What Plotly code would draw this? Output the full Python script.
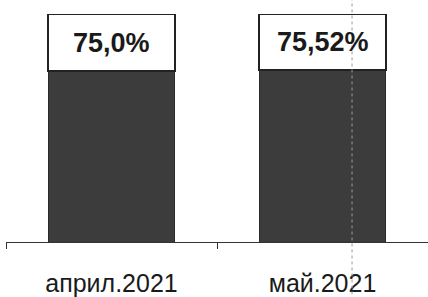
import plotly.graph_objects as go

categories = ["април.2021", "май.2021"]
share_values = [75.0, 75.52]
remainder_values = [25.0, 24.48]
value_labels = ["75,0%", "75,52%"]

fig = go.Figure()
fig.add_trace(go.Bar(
    x=categories, y=share_values,
    marker=dict(color="#3c3c3c", line=dict(color="#2a2a2a", width=1)),
    width=0.6, hoverinfo="skip", showlegend=False,
))
fig.add_trace(go.Bar(
    x=categories, y=remainder_values,
    marker=dict(color="white", line=dict(color="#222222", width=1.5)),
    width=0.6, hoverinfo="skip", showlegend=False,
))

for cat, base, rem, lab in zip(categories, share_values, remainder_values, value_labels):
    fig.add_annotation(
        x=cat, y=base + rem / 2, xref="x", yref="y",
        text="<b>" + lab + "</b>", showarrow=False,
        font=dict(family="Liberation Sans, Arial, sans-serif", size=27, color="#1a1a1a"),
    )

# faint dotted scan line
fig.add_shape(type="line", xref="paper", yref="paper",
              x0=0.82, x1=0.82, y0=-0.23, y1=1.07,
              line=dict(color="#9a9a9a", width=1, dash="dot"))

fig.update_layout(
    barmode="stack",
    width=428, height=297,
    margin=dict(l=6, r=0, t=14, b=52),
    paper_bgcolor="white", plot_bgcolor="white",
    bargap=0.4,
)
fig.update_xaxes(
    range=[-0.5, 1.5], showline=True, linecolor="#333333", linewidth=1,
    ticks="outside", tickson="boundaries", ticklen=6, tickcolor="#333333",
    ticklabelstandoff=19,
    tickfont=dict(family="Liberation Sans, Arial, sans-serif", size=25, color="#1a1a1a"),
    showgrid=False, zeroline=False,
)
fig.update_yaxes(range=[0, 100], visible=False, showgrid=False, zeroline=False)

fig.write_html("out.html", config={"displayModeBar": False},
               post_script="document.body.style.margin='0';")
